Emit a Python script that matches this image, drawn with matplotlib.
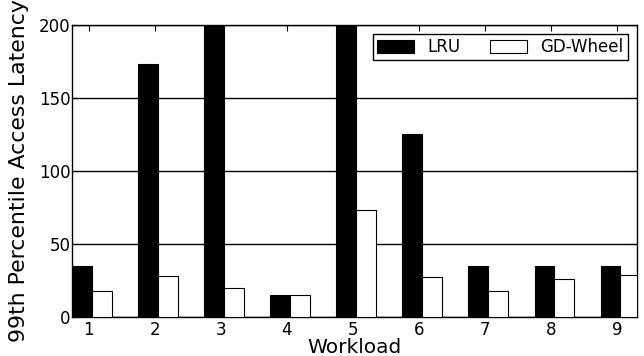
import matplotlib
matplotlib.use("Agg")
import matplotlib.pyplot as plt
import numpy as np

workloads = ["1", "2", "3", "4", "5", "6", "7", "8", "9"]
lru = [35, 173, 205, 15, 205, 125, 35, 35, 35]
gd_wheel = [18, 28, 20, 15, 73, 27, 18, 26, 29]

fig = plt.figure(figsize=(6.44, 3.56), dpi=100)
ax = fig.add_axes([0.112, 0.110, 0.877, 0.820])

x = np.arange(len(workloads))
w = 0.3
ax.bar(x, lru, width=w, align="edge", color="black", edgecolor="black", linewidth=0.8, label="LRU", zorder=3)
ax.bar(x + w, gd_wheel, width=w, align="edge", color="white", edgecolor="black", linewidth=0.8, label="GD-Wheel", zorder=3)

ax.set_xlim(0, 8.55)
ax.set_ylim(0, 200)
ax.set_xticks(x + 0.25)
ax.set_xticklabels(workloads)
ax.set_yticks([0, 50, 100, 150, 200])
ax.yaxis.grid(True, color="black", linewidth=1.0, linestyle="-", zorder=0)
ax.set_axisbelow(True)
ax.tick_params(direction="in", top=True, right=True, labelsize=12, length=4)
ax.tick_params(axis="x", pad=3)
ax.tick_params(axis="y", pad=1)
for s in ax.spines.values():
    s.set_linewidth(1.0)

ax.set_xlabel("Workload", fontsize=14.5, labelpad=-1)
ax.set_ylabel("99th Percentile Access Latency", fontsize=15.8, labelpad=7)

leg = ax.legend(loc="upper right", ncol=2, fontsize=12, frameon=True, fancybox=False,
                edgecolor="black", framealpha=1, handlelength=2.2, columnspacing=1.8,
                borderaxespad=0.55, handleheight=0.75, borderpad=0.25)
leg.get_frame().set_linewidth(1.0)

fig.savefig("out.png", dpi=100)
